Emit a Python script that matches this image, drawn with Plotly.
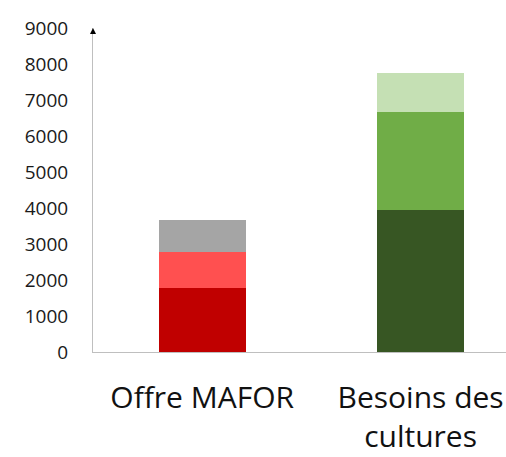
import plotly.graph_objects as go

# Stacked quantities for each column
categories = ["Offre MAFOR", "Besoins des<br>cultures"]
layer_1 = [1790, 3940]
layer_2 = [990, 2715]
layer_3 = [900, 1085]

# Per-column colours for each layer (reds for supply, greens for needs)
colors_1 = ["#C00000", "#375623"]
colors_2 = ["#FF5050", "#70AD47"]
colors_3 = ["#A5A5A5", "#C5E0B4"]

y_ticks = list(range(0, 9001, 1000))

fig = go.Figure()
for i, (vals, cols) in enumerate([(layer_1, colors_1), (layer_2, colors_2), (layer_3, colors_3)]):
    fig.add_trace(go.Bar(
        x=categories, y=vals, name=f"Couche {i + 1}",
        marker=dict(color=cols, line=dict(width=0)),
        width=0.4,
    ))

fig.update_layout(
    barmode="stack",
    width=506, height=457,
    margin=dict(l=93, r=0, t=28, b=105, autoexpand=False),
    paper_bgcolor="white", plot_bgcolor="white",
    showlegend=False,
    font=dict(family="Open Sans", color="#1a1a1a"),
    xaxis=dict(
        range=[-0.5, 1.391],
        automargin=False,
        showline=True, linecolor="#BFBFBF", linewidth=1,
        showgrid=False, zeroline=False,
        ticks="", tickfont=dict(size=30, color="#111"),
        ticklabelstandoff=19,
    ),
    yaxis=dict(
        range=[0, 9000],
        automargin=False,
        tickvals=y_ticks,
        showline=True, linecolor="#BFBFBF", linewidth=1,
        showgrid=False, zeroline=False,
        ticks="", tickfont=dict(size=19, color="#1a1a1a"),
        ticklabelstandoff=20,
    ),
    shapes=[dict(
        type="path", xref="paper", yref="paper",
        xsizemode="pixel", ysizemode="pixel", xanchor=0, yanchor=1,
        path="M -3,-6 L 3,-6 L 0,0 Z",
        fillcolor="black", line=dict(width=0),
    )],
)

fig.write_html("out.html")
